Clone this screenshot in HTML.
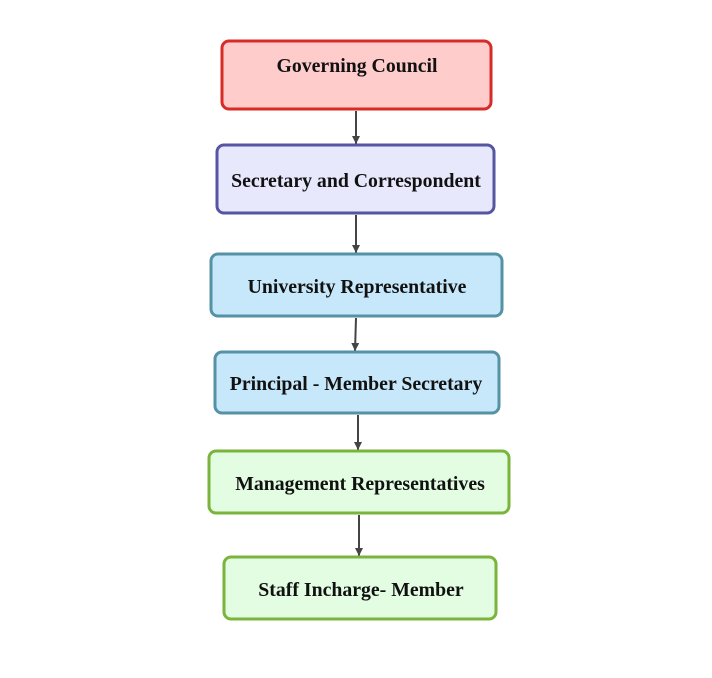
<!DOCTYPE html>
<html><head><style>
html,body{margin:0;padding:0;background:#fff;width:712px;height:678px;overflow:hidden}
text{font-family:"Liberation Serif",serif;font-weight:bold;font-size:19.8px;fill:#111;text-anchor:middle}
</style></head><body>
<svg width="712" height="678" viewBox="0 0 712 678" xmlns="http://www.w3.org/2000/svg">
<defs><marker id="a" markerWidth="8" markerHeight="8" refX="8" refY="4" orient="auto" markerUnits="userSpaceOnUse"><path d="M0,0 L8,4 L0,8 z" fill="#444"/></marker></defs>
<g stroke="#444" stroke-width="2" fill="none">
<line x1="356" y1="111" x2="356" y2="144" marker-end="url(#a)"/>
<line x1="356" y1="215" x2="356" y2="253" marker-end="url(#a)"/>
<line x1="356" y1="318" x2="355" y2="351" marker-end="url(#a)"/>
<line x1="358" y1="415" x2="358" y2="450" marker-end="url(#a)"/>
<line x1="359" y1="515" x2="359" y2="556" marker-end="url(#a)"/>
</g>
<g stroke-width="3">
<rect x="222" y="41" width="269" height="68" rx="7" fill="#ffcccc" stroke="#d62b26"/>
<rect x="217" y="145" width="277" height="68" rx="7" fill="#e8e8fd" stroke="#5555a2"/>
<rect x="211" y="254" width="291" height="62" rx="7" fill="#c7e8fb" stroke="#5592a6"/>
<rect x="215" y="352" width="284" height="61" rx="7" fill="#c7e8fb" stroke="#5592a6"/>
<rect x="209" y="451" width="300" height="62" rx="7" fill="#e2fde2" stroke="#7bb43c"/>
<rect x="224" y="557" width="272" height="62" rx="7" fill="#e2fde2" stroke="#7bb43c"/>
</g>
<text x="357" y="72">Governing Council</text>
<text x="356" y="187">Secretary and Correspondent</text>
<text x="357" y="293">University Representative</text>
<text x="356" y="390">Principal - Member Secretary</text>
<text x="360" y="490">Management Representatives</text>
<text x="361" y="596">Staff Incharge- Member</text>
</svg>
</body></html>
